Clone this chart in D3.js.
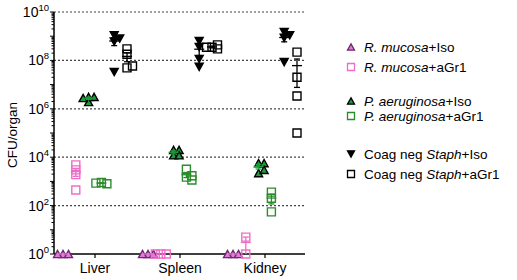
<!DOCTYPE html>
<html>
<head>
<meta charset="utf-8">
<script src="https://cdn.jsdelivr.net/npm/d3@7"></script>
<style>
  body { margin: 0; background: #fff; }
  text { font-family: "Liberation Sans", Arial, sans-serif; }
</style>
</head>
<body>
<svg id="chart" width="517" height="280"></svg>
<script>
// categories and series
const organs = ["Liver", "Spleen", "Kidney"];
const seriesNames = ["rmIso", "rmGr1", "paIso", "paGr1", "csIso", "csGr1"];
const legendItalic = ["R. mucosa", "R. mucosa", "P. aeruginosa", "P. aeruginosa", "Staph", "Staph"];
const legendPrefix = ["", "", "", "", "Coag neg ", "Coag neg "];
const legendSuffix = ["+Iso", "+aGr1", "+Iso", "+aGr1", "+Iso", "+aGr1"];
const yTickExps = [0, 2, 4, 6, 8, 10];

// CFU per organ, one array per organ (Liver, Spleen, Kidney)
const rmIso = [[1, 1, 1], [1, 1, 1], [1, 1, 1]];
const rmGr1 = [[4800, 3000, 1900, 440], [1, 1, 1], [5, 1]];
const paIso = [[3.1e6, 1.9e6, 3.1e6, 2.8e6], [2e4, 1.2e4, 2e4, 1.2e4], [5700, 5700, 2200, 3000]];
const paGr1 = [[900, 800, 850], [1500, 1150, 3200, 1700], [360, 200, 55]];
const csIso = [[1.1e9, 8e8, 6e8, 3.3e7], [6.3e8, 5.4e7, 1.15e8, 3.6e8], [1.5e9, 1.1e9, 8.5e8, 8.5e7]];
const csGr1 = [[3e8, 1.8e8, 4.9e7, 5.9e7], [3.5e8, 4.4e8, 3e8, 3.5e8], [2.2e8, 2e7, 3.4e6, 1e5]];
const seriesData = { rmIso, rmGr1, paIso, paGr1, csIso, csGr1 };

const style = {
  rmIso: { shape: "up", fill: "#e27ad9", stroke: "#6d2a6a", bar: "#e27ad9" },
  rmGr1: { shape: "sq", fill: "none", stroke: "#f06cc9", bar: "#f06cc9" },
  paIso: { shape: "up", fill: "#1f9a3c", stroke: "#000", bar: "#1f9a3c" },
  paGr1: { shape: "sq", fill: "none", stroke: "#2b8c2b", bar: "#2b8c2b" },
  csIso: { shape: "down", fill: "#000", stroke: "#000", bar: "#000" },
  csGr1: { shape: "sq", fill: "none", stroke: "#000", bar: "#000" }
};

const svg = d3.select("#chart");
const x0 = 54, x1 = 305, yTop = 12, yBot = 254;

const x = d3.scalePoint().domain(organs).range([95, 265]);
const xs = d3.scalePoint().domain(seriesNames).range([-32, 32]);
const y = d3.scaleLog().domain([1, 1e10]).range([yBot, yTop]);

//Grid lines
svg.append("g").selectAll("line")
  .data(yTickExps.filter(e => e > 0))
  .enter().append("line")
  .attr("x1", x0).attr("x2", x1)
  .attr("y1", e => y(Math.pow(10, e))).attr("y2", e => y(Math.pow(10, e)))
  .attr("stroke", "#444").attr("stroke-width", 1.2)
  .attr("stroke-dasharray", "2,2");

//Y axis with minor ticks
const yAxis = svg.append("g").attr("transform", `translate(${x0},0)`);
yAxis.append("line").attr("y1", yTop).attr("y2", yBot).attr("stroke", "#000").attr("stroke-width", 1.5);
const minor = [];
for (let e = 0; e < 10; e++) for (let m = 1; m < 10; m++) minor.push(m * Math.pow(10, e));
minor.push(1e10);
yAxis.selectAll(".mt").data(minor).enter().append("line")
  .attr("x1", v => (Math.log10(v) % 1 === 0 ? -4 : -2.5)).attr("x2", 0)
  .attr("y1", v => y(v)).attr("y2", v => y(v))
  .attr("stroke", "#000").attr("stroke-width", 1);

const tl = yAxis.selectAll(".tl").data(yTickExps).enter().append("text")
  .attr("x", -5).attr("y", e => y(Math.pow(10, e)) + 5)
  .attr("text-anchor", "end").style("font-size", "14px");
tl.append("tspan").text("10");
tl.append("tspan").attr("dy", -6).style("font-size", "9.5px").text(e => e);

svg.append("text")
  .attr("transform", `translate(17,${(yTop + yBot) / 2 + 2}) rotate(-90)`)
  .attr("text-anchor", "middle").style("font-size", "13.5px").text("CFU/organ");

//X axis
svg.append("line").attr("x1", x0).attr("x2", x1).attr("y1", yBot).attr("y2", yBot)
  .attr("stroke", "#000").attr("stroke-width", 1.5);
svg.selectAll(".xt").data(organs).enter().append("line")
  .attr("x1", d => x(d)).attr("x2", d => x(d)).attr("y1", yBot).attr("y2", yBot + 4)
  .attr("stroke", "#000").attr("stroke-width", 1.2);
svg.selectAll(".xl").data(organs).enter().append("text")
  .attr("x", d => x(d)).attr("y", yBot + 19).attr("text-anchor", "middle")
  .style("font-size", "14px").text(d => d);

//Marker paths
function marker(shape, s) {
  if (shape === "sq") return `M${-s / 2},${-s / 2}h${s}v${s}h${-s}Z`;
  const h = s * 0.9;
  if (shape === "up") return `M0,${-h / 2}L${s / 2},${h / 2}L${-s / 2},${h / 2}Z`;
  return `M0,${h / 2}L${s / 2},${-h / 2}L${-s / 2},${-h / 2}Z`;
}

//Spread points that sit on top of each other sideways
function spread(vals, step, minDist) {
  const placed = [];
  return vals.map(v => {
    const py = y(v);
    const cand = [0];
    for (let k = 1; k < 6; k++) cand.push(k * step, -k * step);
    for (const c of cand) {
      if (placed.every(p => Math.hypot(p.dx - c, p.py - py) >= minDist)) {
        placed.push({ dx: c, py });
        return { v, dx: c };
      }
    }
    placed.push({ dx: 0, py });
    return { v, dx: 0 };
  });
}

const plot = svg.append("g");
seriesNames.forEach(s => {
  const st = style[s];
  organs.forEach((o, i) => {
    const vals = seriesData[s][i];
    const cx = x(o) + xs(s);
    const n = vals.length;
    const mean = d3.mean(vals);
    const sem = d3.deviation(vals) / Math.sqrt(n);
    const lo = Math.max(1, mean - sem), hi = mean + sem;

    //points
    plot.selectAll(null).data(spread(vals, 5.5, 3.5)).enter().append("path")
      .attr("d", marker(st.shape, 8))
      .attr("transform", d => `translate(${cx + d.dx},${y(d.v)})`)
      .attr("fill", st.fill).attr("stroke", st.stroke).attr("stroke-width", 1.4);

    //mean +- SEM
    const g = plot.append("g").attr("stroke", st.bar).attr("stroke-width", 1.3);
    if (sem > 0) {
      g.append("line").attr("x1", cx).attr("x2", cx).attr("y1", y(lo)).attr("y2", y(hi));
      g.append("line").attr("x1", cx - 3).attr("x2", cx + 3).attr("y1", y(hi)).attr("y2", y(hi));
      if (mean - sem > 1) g.append("line").attr("x1", cx - 3).attr("x2", cx + 3).attr("y1", y(lo)).attr("y2", y(lo));
    }
    g.append("line").attr("x1", cx - 5).attr("x2", cx + 5).attr("y1", y(mean)).attr("y2", y(mean));
  });
});

//Legend
const legendY = [47, 67, 101, 116, 154, 174];
const leg = svg.append("g");
seriesNames.forEach((s, i) => {
  const st = style[s];
  leg.append("path").attr("d", marker(st.shape, 7))
    .attr("transform", `translate(351,${legendY[i]})`)
    .attr("fill", st.shape === "sq" ? "#fff" : st.fill).attr("stroke", st.stroke).attr("stroke-width", 1.3);
  const t = leg.append("text").attr("x", 364).attr("y", legendY[i] + 5).style("font-size", "13.5px");
  if (legendPrefix[i]) t.append("tspan").text(legendPrefix[i]);
  t.append("tspan").style("font-style", "italic").text(legendItalic[i]);
  t.append("tspan").text(legendSuffix[i]);
});
</script>
</body>
</html>
